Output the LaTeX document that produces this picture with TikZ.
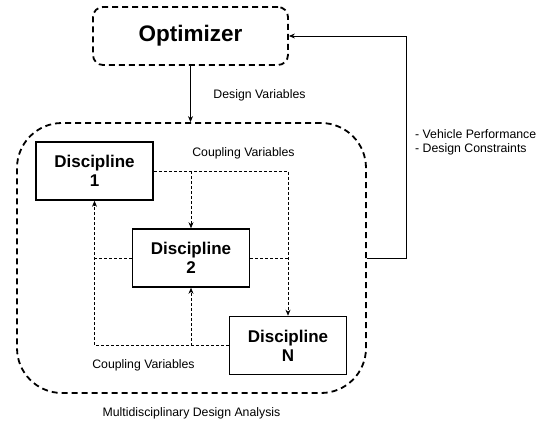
\documentclass[tikz,border=0pt]{standalone}
\usepackage{fontspec}
\setmainfont{Liberation Sans}
\usetikzlibrary{arrows.meta}
\begin{document}
\begin{tikzpicture}[x=1pt,y=-1pt,
  bigdash/.style={draw=black, line width=1.8pt, dash pattern=on 6pt off 4pt},
  optbox/.style={bigdash, rounded corners=10pt, minimum width=195pt, minimum height=58pt,
    font=\fontsize{22.5}{27}\selectfont\bfseries, inner sep=0pt},
  mdabox/.style={bigdash, rounded corners=45pt, minimum width=349pt, minimum height=270pt, inner sep=0pt},
  discbox/.style={draw=black, line width=1.6pt, minimum width=117pt, minimum height=58pt,
    align=center, font=\fontsize{17}{19}\selectfont\bfseries, inner sep=0pt},
  coup/.style={draw=black, line width=0.7pt, dash pattern=on 3pt off 2pt},
  tip/.style={-{Stealth[length=6pt,width=5pt]}},
  lbl/.style={font=\fontsize{12.3}{14.5}\selectfont, inner sep=0pt}
]
\useasboundingbox (0,0) rectangle (541,423);
\fill[white] (0,0) rectangle (541,423);

\node[optbox] (opt) at (190.5,36) {Optimizer};
\node[mdabox] (mda) at (191.5,258) {};
\node[discbox] (d1) at (94.5,171) {Discipline\\1};
\node[discbox] (d2) at (191,258) {Discipline\\2};
\node[discbox] (dn) at (288,345.5) {Discipline\\N};

% design variables
\draw[line width=0.8pt, tip] (opt.south) -- (opt.south |- mda.north);
% feedback
\draw[line width=0.8pt, tip] (mda.east) -- ++(39,0) |- (opt.east);

% coupling, top/right
\draw[coup, tip] (d1.east) -| (dn.north);
\draw[coup, tip] (d2.north |- d1.east) -- (d2.north);
\draw[coup] (d2.east) -- (d2.east -| dn.north);
% coupling, bottom/left
\draw[coup, tip] (dn.west) -| (d1.south);
\draw[coup, tip] (d2.south |- dn.west) -- (d2.south);
\draw[coup] (d2.west) -- (d2.west -| d1.south);

\node[lbl] (ldv) at (259.5,95) {Design Variables};
\node[lbl] (lcv1) at (243.5,153) {Coupling Variables};
\node[lbl] (lcv2) at (143.5,365) {Coupling Variables};
\node[lbl] (lmda) at (191.5,413) {Multidisciplinary Design Analysis};
\node[lbl, anchor=west, align=left] (lfb) at (415,142.5) {- Vehicle Performance\\- Design Constraints};
\end{tikzpicture}
\end{document}
